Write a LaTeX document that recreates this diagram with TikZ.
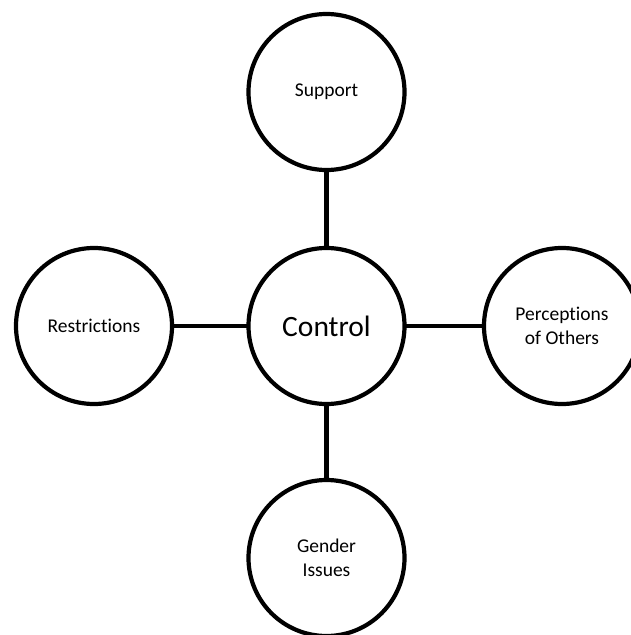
\documentclass[tikz,border=0pt]{standalone}
\usepackage{fontspec}
\setmainfont{Carlito}[Ligatures=NoCommon]
\begin{document}
\begin{tikzpicture}[x=1pt,y=-1pt,
  bub/.style={circle,draw=black,line width=4.2pt,minimum size=156pt,inner sep=0pt,outer sep=0pt,align=center,font=\fontsize{19.5}{24.5}\selectfont},
  link/.style={line width=4.2pt,black}]
\useasboundingbox (0,0) rectangle (630,635);
\node[bub] (sup) at (326.5,92) {Support};
\node[bub,font=\fontsize{29.5}{34}\selectfont] (ctl) at (326.5,326) {Control};
\node[bub] (res) at (94,326) {Restrictions};
\node[bub] (per) at (562,326) {Perceptions\\of Others};
\node[bub] (gen) at (326.5,558) {Gender\\Issues};
\draw[link] (sup) -- (ctl);
\draw[link] (res) -- (ctl);
\draw[link] (per) -- (ctl);
\draw[link] (gen) -- (ctl);
\end{tikzpicture}
\end{document}
